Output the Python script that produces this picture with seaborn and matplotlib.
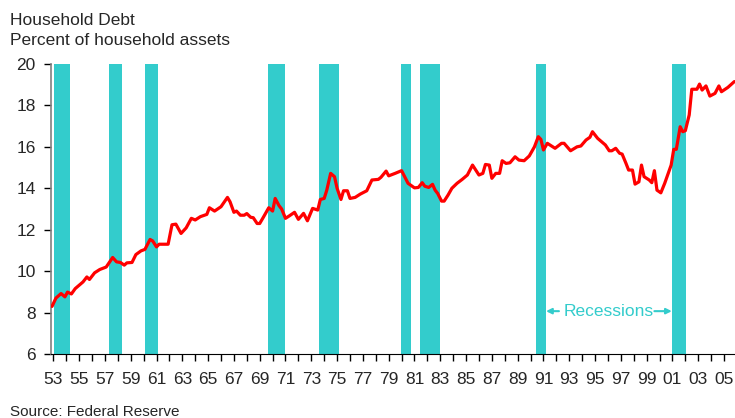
import matplotlib
matplotlib.use('Agg')
import matplotlib.pyplot as plt
import seaborn as sns
import pandas as pd

years = [1952.9, 1953.2, 1953.6, 1953.9, 1954.1, 1954.4, 1954.7, 1955.0, 1955.3, 1955.6,
         1955.8, 1956.2, 1956.6, 1957.1, 1957.6, 1957.9, 1958.2, 1958.5, 1958.7, 1959.1,
         1959.4, 1959.8, 1960.1, 1960.5, 1960.7, 1961.0, 1961.2, 1961.9, 1962.2, 1962.5,
         1962.9, 1963.3, 1963.7, 1964.0, 1964.4, 1964.9, 1965.1, 1965.5, 1966.0, 1966.5,
         1966.7, 1967.0, 1967.2, 1967.5, 1967.8, 1968.0, 1968.3, 1968.5, 1968.8, 1969.0,
         1969.3, 1969.7, 1970.0, 1970.2, 1970.5, 1970.7, 1971.0, 1971.3, 1971.7, 1972.0,
         1972.4, 1972.7, 1973.1, 1973.5, 1973.7, 1974.0, 1974.2, 1974.5, 1974.8, 1975.0,
         1975.3, 1975.5, 1975.8, 1976.0, 1976.4, 1976.8, 1977.3, 1977.7, 1978.2, 1978.4,
         1978.8, 1979.0, 1979.5, 1980.0, 1980.5, 1981.0, 1981.3, 1981.6, 1981.8, 1982.1,
         1982.4, 1982.6, 1982.8, 1983.1, 1983.3, 1983.6, 1983.9, 1984.3, 1984.7, 1985.1,
         1985.5, 1986.0, 1986.3, 1986.5, 1986.8, 1987.0, 1987.3, 1987.6, 1987.8, 1988.1,
         1988.4, 1988.8, 1989.1, 1989.5, 1989.9, 1990.3, 1990.6, 1990.8, 1991.0, 1991.3,
         1991.9, 1992.4, 1992.6, 1993.1, 1993.6, 1993.9, 1994.3, 1994.6, 1994.8, 1995.2,
         1995.5, 1995.8, 1996.1, 1996.3, 1996.6, 1996.9, 1997.1, 1997.4, 1997.6, 1997.9,
         1998.1, 1998.4, 1998.6, 1998.8, 1999.2, 1999.4, 1999.6, 1999.8, 2000.1, 2000.4,
         2000.6, 2000.9, 2001.1, 2001.3, 2001.6, 2001.8, 2002.0, 2002.3, 2002.5, 2002.9,
         2003.1, 2003.3, 2003.6, 2003.9, 2004.3, 2004.6, 2004.8, 2005.3, 2005.8]

debt = [8.30, 8.70, 8.92, 8.76, 8.99, 8.90, 9.16, 9.32, 9.48, 9.72,
        9.60, 9.92, 10.08, 10.20, 10.66, 10.45, 10.42, 10.29, 10.40, 10.42,
        10.80, 10.98, 11.05, 11.53, 11.46, 11.17, 11.30, 11.30, 12.24, 12.27,
        11.82, 12.09, 12.55, 12.47, 12.63, 12.74, 13.06, 12.90, 13.11, 13.56,
        13.35, 12.84, 12.90, 12.70, 12.70, 12.78, 12.60, 12.58, 12.30, 12.30,
        12.62, 13.06, 12.90, 13.51, 13.16, 13.00, 12.55, 12.67, 12.84, 12.50,
        12.79, 12.43, 13.03, 12.95, 13.46, 13.51, 13.91, 14.72, 14.56, 14.00,
        13.46, 13.88, 13.88, 13.51, 13.56, 13.72, 13.88, 14.40, 14.43, 14.53,
        14.83, 14.60, 14.72, 14.85, 14.24, 14.02, 14.04, 14.27, 14.10, 14.04,
        14.19, 13.91, 13.75, 13.38, 13.38, 13.67, 14.00, 14.24, 14.43, 14.64,
        15.12, 14.64, 14.72, 15.15, 15.12, 14.48, 14.72, 14.72, 15.33, 15.20,
        15.23, 15.52, 15.36, 15.33, 15.56, 16.00, 16.49, 16.36, 15.85, 16.17,
        15.93, 16.17, 16.17, 15.81, 16.00, 16.04, 16.33, 16.46, 16.73, 16.41,
        16.25, 16.09, 15.81, 15.81, 15.93, 15.69, 15.65, 15.20, 14.88, 14.88,
        14.20, 14.31, 15.12, 14.56, 14.40, 14.27, 14.85, 13.91, 13.78, 14.24,
        14.59, 15.12, 15.88, 15.88, 16.97, 16.73, 16.78, 17.54, 18.78, 18.78,
        19.03, 18.74, 18.94, 18.45, 18.58, 18.94, 18.66, 18.87, 19.15]

rec_start = [1953.05, 1957.32, 1960.11, 1969.64, 1973.59, 1979.95, 1981.42, 1990.41, 2000.95]
rec_end = [1954.29, 1958.33, 1961.12, 1970.95, 1975.15, 1980.72, 1982.97, 1991.19, 2002.03]

tick_years = list(range(1953, 2006))
tick_labels = [f'{y % 100:02d}' if (y - 1953) % 2 == 0 else '' for y in tick_years]

teal = '#33CCCC'

sns.set_style('ticks')
plt.rcParams['font.family'] = ['Liberation Sans', 'DejaVu Sans']

df = pd.DataFrame({'year': years, 'debt': debt})

fig = plt.figure(figsize=(7.35, 4.18), dpi=100)
ax = fig.add_axes([0.0694, 0.153, 0.9306, 0.694])

# recession shading
for s, e in zip(rec_start, rec_end):
    ax.axvspan(s, e, color=teal, lw=0, zorder=1)

sns.lineplot(data=df, x='year', y='debt', color='#FF0000', linewidth=2.3, ax=ax, zorder=3)

ax.set_xlim(1952.82, 2005.85)
ax.set_ylim(6, 20)
ax.set_yticks(range(6, 21, 2))
ax.set_xticks(tick_years)
ax.set_xticklabels(tick_labels)
ax.tick_params(axis='both', labelsize=12.5, length=5, width=1, color='black')
ax.tick_params(axis='x', pad=8)
ax.tick_params(axis='y', pad=6)
ax.set_xlabel('')
ax.set_ylabel('')

sns.despine(ax=ax)
ax.spines['left'].set_color('#808080')
ax.spines['left'].set_linewidth(1.2)
ax.spines['bottom'].set_color('black')

ax.text(1996.04, 8.07, 'Recessions', color=teal, fontsize=12.5, ha='center', va='center')
ax.annotate('', xy=(1991.2, 8.07), xytext=(1992.2, 8.07),
            arrowprops=dict(arrowstyle='-|>', color=teal, lw=1.5, mutation_scale=8,
                            shrinkA=0, shrinkB=0))
ax.annotate('', xy=(2000.95, 8.07), xytext=(1999.6, 8.07),
            arrowprops=dict(arrowstyle='-|>', color=teal, lw=1.5, mutation_scale=8,
                            shrinkA=0, shrinkB=0))

fig.text(0.0136, 0.940, 'Household Debt', fontsize=12.5, va='baseline', ha='left')
fig.text(0.0136, 0.892, 'Percent of household assets', fontsize=12.5, va='baseline', ha='left')
fig.text(0.0136, 0.004, 'Source: Federal Reserve', fontsize=11, va='baseline', ha='left')

fig.savefig('out.png', dpi=100)
